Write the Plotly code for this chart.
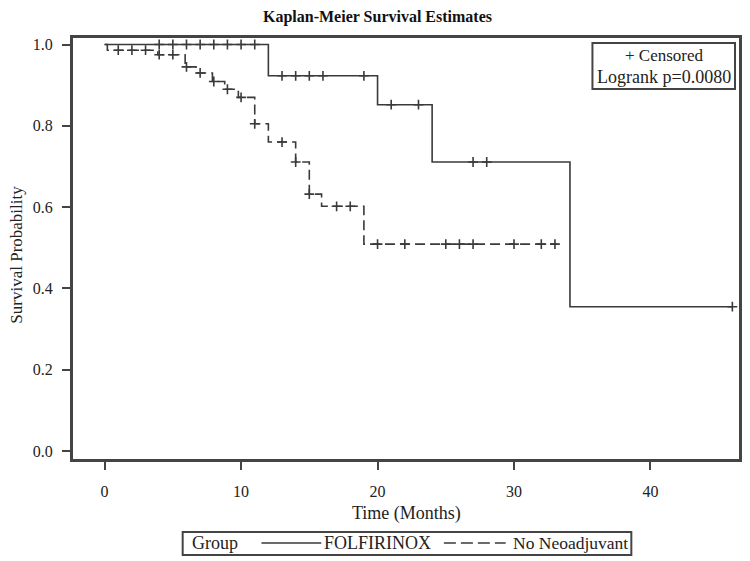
import plotly.graph_objects as go

# ---------------- data ----------------
# FOLFIRINOX (solid): step times and survival after each step
folf_times = [0, 12.0, 20.0, 24.0, 34.1, 46.0]
folf_surv = [1.0, 0.923, 0.852, 0.711, 0.355, 0.355]
folf_cens_t = [4, 5, 6, 7, 8, 9, 10, 11, 13, 14, 15, 16, 19, 21, 23, 27, 28, 46]
folf_cens_s = [1.0, 1.0, 1.0, 1.0, 1.0, 1.0, 1.0, 1.0,
               0.923, 0.923, 0.923, 0.923, 0.923,
               0.852, 0.852, 0.711, 0.711, 0.355]

# No Neoadjuvant (dashed)
noneo_times = [0, 0.2, 3.9, 5.9, 6.7, 7.9, 8.8, 9.8, 11.0, 12.0, 14.0, 15.0, 15.9, 19.0, 33.2]
noneo_surv = [1.0, 0.986, 0.975, 0.945, 0.930, 0.909, 0.890, 0.870, 0.805, 0.760,
              0.711, 0.632, 0.602, 0.509, 0.509]
noneo_cens_t = [1, 2, 3, 4, 5, 6, 7, 8, 9, 10, 11, 13, 14, 15, 17, 18,
                20, 22, 25, 26, 27, 30, 32, 33]
noneo_cens_s = [0.986, 0.986, 0.986, 0.975, 0.975, 0.945, 0.930, 0.909, 0.890, 0.870,
                0.805, 0.760, 0.711, 0.632, 0.602, 0.602,
                0.509, 0.509, 0.509, 0.509, 0.509, 0.509, 0.509, 0.509]

x_ticks = [0, 10, 20, 30, 40]
y_ticks = [0.0, 0.2, 0.4, 0.6, 0.8, 1.0]
y_tick_text = ["0.0", "0.2", "0.4", "0.6", "0.8", "1.0"]

group_names = ["FOLFIRINOX", "No Neoadjuvant"]
title_text = "Kaplan-Meier Survival Estimates"
x_title = "Time (Months)"
y_title = "Survival Probability"
logrank_text = "Logrank p=0.0080"

# ---------------- styling ----------------
# the page body has an 8px margin, so the figure is drawn 8px in from the corner
OFF = 8
W, H = 750 - OFF, 561 - OFF
L, T = 72 - OFF, 37 - OFF
R = W - (742 - OFF)
B = H - (460 - OFF)
LINE = "#3a3a3a"
FONT = "Liberation Serif"
plot_w = W - L - R
plot_h = H - T - B


def px_x(px):
    """screen x pixel -> paper coordinate"""
    return (px - OFF - L) / plot_w


def px_y(py):
    """screen y pixel -> paper coordinate"""
    return (H - B - (py - OFF)) / plot_h


fig = go.Figure()

fig.add_trace(go.Scatter(x=folf_times, y=folf_surv, mode="lines", line_shape="hv",
                         line=dict(color=LINE, width=1.6), name=group_names[0],
                         showlegend=False))
fig.add_trace(go.Scatter(x=noneo_times, y=noneo_surv, mode="lines", line_shape="hv",
                         line=dict(color=LINE, width=1.6, dash="10px,5px"),
                         name=group_names[1], showlegend=False))
for ct, cs in [(folf_cens_t, folf_cens_s), (noneo_cens_t, noneo_cens_s)]:
    fig.add_trace(go.Scatter(x=ct, y=cs, mode="markers",
                             marker=dict(symbol="cross-thin", size=7,
                                         line=dict(color=LINE, width=1.6)),
                             showlegend=False))

axis_common = dict(showline=True, mirror=True, linecolor="#444", linewidth=2,
                   ticks="outside", ticklen=8, tickwidth=1.5, tickcolor="#444",
                   showgrid=False, zeroline=False,
                   tickfont=dict(family=FONT, size=16, color="#222"))

fig.update_xaxes(range=[-2.39, 46.56], tickvals=x_ticks, ticklabelstandoff=8,
                 **axis_common)
fig.update_yaxes(range=[-0.0222, 1.0185], tickvals=y_ticks, ticktext=y_tick_text,
                 ticklabelstandoff=6, **axis_common)

annotations = [
    dict(text="<b>" + title_text + "</b>", x=px_x(378), y=px_y(17), xref="paper",
         yref="paper", showarrow=False, font=dict(family=FONT, size=16, color="#111"),
         xanchor="center", yanchor="middle"),
    dict(text=x_title, x=px_x(408), y=px_y(513), xref="paper", yref="paper",
         showarrow=False, font=dict(family=FONT, size=18, color="#222"),
         xanchor="center", yanchor="middle"),
    dict(text=y_title, x=px_x(15.5), y=px_y(255), xref="paper", yref="paper",
         showarrow=False, textangle=-90, font=dict(family=FONT, size=17, color="#222"),
         xanchor="center", yanchor="middle"),
    dict(text="+ Censored", x=px_x(666), y=px_y(56), xref="paper", yref="paper",
         showarrow=False, font=dict(family=FONT, size=17, color="#222"),
         xanchor="center", yanchor="middle"),
    dict(text=logrank_text, x=px_x(666), y=px_y(77), xref="paper", yref="paper",
         showarrow=False, font=dict(family=FONT, size=18, color="#222"),
         xanchor="center", yanchor="middle"),
    dict(text="Group", x=px_x(190), y=px_y(543), xref="paper", yref="paper",
         showarrow=False, font=dict(family=FONT, size=18, color="#222"),
         xanchor="left", yanchor="middle"),
    dict(text=group_names[0], x=px_x(323), y=px_y(543), xref="paper", yref="paper",
         showarrow=False, font=dict(family=FONT, size=18, color="#222"),
         xanchor="left", yanchor="middle"),
    dict(text=group_names[1], x=px_x(512), y=px_y(543), xref="paper", yref="paper",
         showarrow=False, font=dict(family=FONT, size=17.5, color="#222"),
         xanchor="left", yanchor="middle"),
]

shapes = [
    # plot frame
    dict(type="rect", xref="paper", yref="paper", x0=0, x1=1, y0=0, y1=1,
         line=dict(color="#444", width=2)),
    # censored / logrank inset box
    dict(type="rect", xref="paper", yref="paper", x0=px_x(594), x1=px_x(737),
         y0=px_y(89), y1=px_y(43), line=dict(color="#444", width=2)),
    # bottom legend box
    dict(type="rect", xref="paper", yref="paper", x0=px_x(183), x1=px_x(633),
         y0=px_y(555), y1=px_y(532), line=dict(color="#444", width=2)),
    dict(type="line", xref="paper", yref="paper", x0=px_x(262), x1=px_x(322),
         y0=px_y(543), y1=px_y(543), line=dict(color=LINE, width=1.6)),
    dict(type="line", xref="paper", yref="paper", x0=px_x(445), x1=px_x(507),
         y0=px_y(543), y1=px_y(543), line=dict(color=LINE, width=1.6, dash="12px,5px")),
]

fig.update_layout(width=W, height=H, margin=dict(l=L, r=R, t=T, b=B),
                  paper_bgcolor="white", plot_bgcolor="white",
                  annotations=annotations, shapes=shapes, showlegend=False)

fig.write_html("out.html")
